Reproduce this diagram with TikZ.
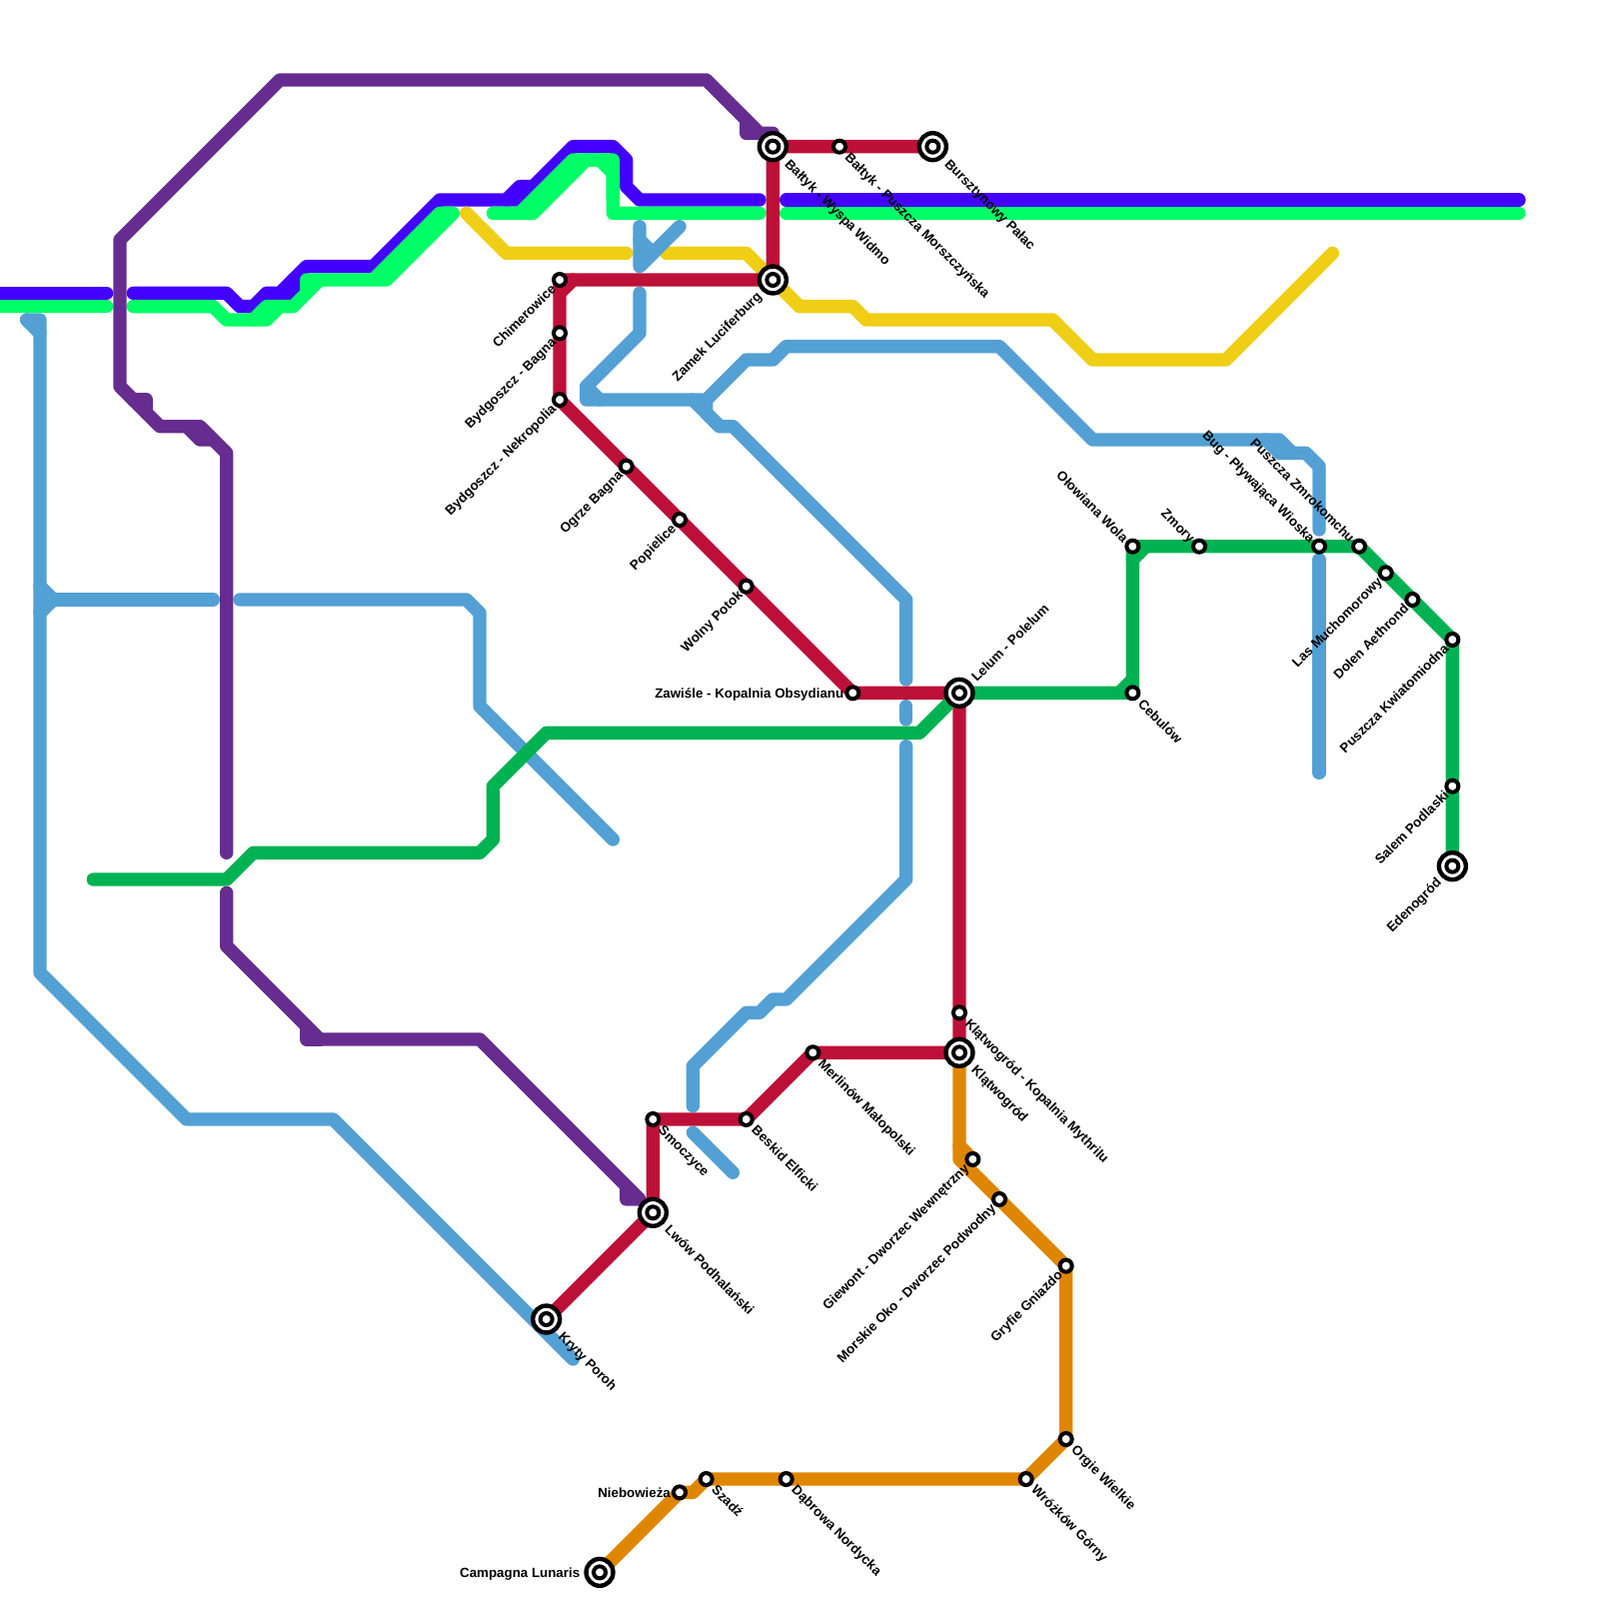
\documentclass[tikz,border=0pt]{standalone}
\usepackage{xcolor}
\usepackage{fontspec}
\setmainfont{Liberation Sans}
\usepackage{tikz}
\usetikzlibrary{backgrounds}
\definecolor{indigoc}{HTML}{4400FF}
\definecolor{springc}{HTML}{00FF66}
\definecolor{yellowc}{HTML}{F0CE15}
\definecolor{bluec}{HTML}{53A0D4}
\definecolor{purplec}{HTML}{662C90}
\definecolor{redc}{HTML}{BD1038}
\definecolor{greenc}{HTML}{00B251}
\definecolor{orangec}{HTML}{DF8600}
\tikzstyle{metro} = [line width=2mm, line cap=round, line join=round]
\tikzstyle{indigoline} = [metro, draw=indigoc]
\tikzstyle{springline} = [metro, draw=springc]
\tikzstyle{yellowline} = [metro, draw=yellowc]
\tikzstyle{blueline} = [metro, draw=bluec]
\tikzstyle{purpleline} = [metro, draw=purplec]
\tikzstyle{redline} = [metro, draw=redc]
\tikzstyle{greenline} = [metro, draw=greenc]
\tikzstyle{orangeline} = [metro, draw=orangec]
\tikzstyle{stop} = [circle, draw=black, fill=white, line width=0.6mm, minimum size=1.8mm, inner sep=0pt]
\tikzstyle{hub} = [circle, draw=black, fill=white, line width=0.66mm, minimum size=4.04mm, inner sep=0pt, path picture={\draw [black, line width=0.6mm] (path picture bounding box.center) circle (0.9mm);}]
\tikzstyle{stname} = [font=\fontsize{5.69}{6.8}\selectfont\bfseries, text=black, text height=4.3pt, text depth=0pt, inner ysep=0pt]
\tikzstyle{namese} = [stname, rotate=-45, anchor=west, inner xsep=1.7mm]
\tikzstyle{namesw} = [stname, rotate=45, anchor=east, inner xsep=1.3mm]
\tikzstyle{namenw} = [stname, rotate=-45, anchor=east, inner xsep=1.3mm]
\tikzstyle{namene} = [stname, rotate=45, anchor=west, inner xsep=2.9mm]
\tikzstyle{namew} = [stname, anchor=east, inner xsep=1.3mm]
\begin{document}
\begin{tikzpicture}[x=2mm, y=-2mm]
    \useasboundingbox (0,0) rectangle (120,120);

    \node (baltyk) [hub] at (58,11) {};
    \node (morsz) [stop] at (63,11) {};
    \node (bursz) [hub] at (70,11) {};
    \node (zamek) [hub] at (58,21) {};
    \node (chimer) [stop] at (42,21) {};
    \node (bagna) [stop] at (42,25) {};
    \node (nekro) [stop] at (42,30) {};
    \node (ogrze) [stop] at (47,35) {};
    \node (popiel) [stop] at (51,39) {};
    \node (wolny) [stop] at (56,44) {};
    \node (zawisle) [stop] at (64,52) {};
    \node (lelum) [hub] at (72,52) {};
    \node (cebulow) [stop] at (85,52) {};
    \node (olowiana) [stop] at (85,41) {};
    \node (zmory) [stop] at (90,41) {};
    \node (bug) [stop] at (99,41) {};
    \node (zmrok) [stop] at (102,41) {};
    \node (las) [stop] at (104,43) {};
    \node (dolen) [stop] at (106,45) {};
    \node (kwiat) [stop] at (109,48) {};
    \node (salem) [stop] at (109,59) {};
    \node (edeno) [hub] at (109,65) {};
    \node (klkop) [stop] at (72,76) {};
    \node (klatwa) [hub] at (72,79) {};
    \node (merlin) [stop] at (61,79) {};
    \node (beskid) [stop] at (56,84) {};
    \node (smok) [stop] at (49,84) {};
    \node (lwow) [hub] at (49,91) {};
    \node (kryty) [hub] at (41,99) {};
    \node (giewont) [stop] at (73,87) {};
    \node (morskie) [stop] at (75,90) {};
    \node (gryfie) [stop] at (80,95) {};
    \node (orgie) [stop] at (80,108) {};
    \node (wrozkow) [stop] at (77,111) {};
    \node (dabrowa) [stop] at (59,111) {};
    \node (szadz) [stop] at (53,111) {};
    \node (niebo) [stop] at (51,112) {};
    \node (campagna) [hub] at (45,118) {};

    \node (nbaltyk) [namese, inner xsep=3.1mm] at (baltyk) {Bałtyk - Wyspa Widmo};
    \node (nmorsz) [namese] at (morsz) {Bałtyk - Puszcza Morszczyńska};
    \node (nbursz) [namese, inner xsep=3.1mm] at (bursz) {Bursztynowy Pałac};
    \node (nzamek) [namesw, inner xsep=2.9mm] at (zamek) {Zamek Luciferburg};
    \node (nchimer) [namesw] at (chimer) {Chimerowice};
    \node (nbagna) [namesw] at (bagna) {Bydgoszcz - Bagna};
    \node (nnekro) [namesw] at (nekro) {Bydgoszcz - Nekropolia};
    \node (nogrze) [namesw] at (ogrze) {Ogrze Bagna};
    \node (npopiel) [namesw] at (popiel) {Popielice};
    \node (nwolny) [namesw] at (wolny) {Wolny Potok};
    \node (nzawisle) [namew] at (zawisle) {Zawiśle - Kopalnia Obsydianu};
    \node (nlelum) [namene] at (lelum) {Lelum - Polelum};
    \node (ncebulow) [namese] at (cebulow) {Cebulów};
    \node (nolowiana) [namenw] at (olowiana) {Ołowiana Wola};
    \node (nzmory) [namenw] at (zmory) {Zmory};
    \node (nbug) [namenw] at (bug) {Bug - Pływająca Wioska};
    \node (nzmrok) [namenw] at (zmrok) {Puszcza Zmrokomchu};
    \node (nlas) [namesw] at (las) {Las Muchomorowy};
    \node (ndolen) [namesw] at (dolen) {Dolen Aethrond};
    \node (nkwiat) [namesw] at (kwiat) {Puszcza Kwiatomiodna};
    \node (nsalem) [namesw] at (salem) {Salem Podlaski};
    \node (nedeno) [namesw, inner xsep=2.9mm] at (edeno) {Edenogród};
    \node (nklkop) [namese] at (klkop) {Klątwogród - Kopalnia Mythrilu};
    \node (nklatwa) [namese, inner xsep=3.1mm] at (klatwa) {Klątwogród};
    \node (nmerlin) [namese] at (merlin) {Merlinów Małopolski};
    \node (nbeskid) [namese] at (beskid) {Beskid Elficki};
    \node (nsmok) [namese] at (smok) {Smoczyce};
    \node (nlwow) [namese, inner xsep=3.1mm] at (lwow) {Lwów Podhalański};
    \node (nkryty) [namese, inner xsep=3.1mm] at (kryty) {Kryty Poroh};
    \node (ngiewont) [namesw] at (giewont) {Giewont - Dworzec Wewnętrzny};
    \node (nmorskie) [namesw] at (morskie) {Morskie Oko - Dworzec Podwodny};
    \node (ngryfie) [namesw] at (gryfie) {Gryfie Gniazdo};
    \node (norgie) [namese] at (orgie) {Orgie Wielkie};
    \node (nwrozkow) [namese] at (wrozkow) {Wróżków Górny};
    \node (ndabrowa) [namese] at (dabrowa) {Dąbrowa Nordycka};
    \node (nszadz) [namese] at (szadz) {Szadź};
    \node (nniebo) [namew] at (niebo) {Niebowieża};
    \node (ncampagna) [namew, inner xsep=2.9mm] at (campagna) {Campagna Lunaris};

    \coordinate (ia) at (-1,22); \coordinate (ib) at (8,22);
    \coordinate (ic) at (10,22); \coordinate (id) at (57,15);
    \coordinate (ie) at (21,22); \coordinate (if) at (22,21);
    \coordinate (ig) at (38,15); \coordinate (ih) at (40,14);
    \coordinate (ii) at (59,15); \coordinate (ij) at (114,15);
    \coordinate (sa) at (-1,23); \coordinate (sb) at (8,23);
    \coordinate (sc) at (10,23); \coordinate (sd) at (23,22);
    \coordinate (se) at (19,24); \coordinate (sf) at (21,23);
    \coordinate (sg) at (37,16); \coordinate (sh) at (57,16);
    \coordinate (si) at (39,16); \coordinate (sj) at (46,15);
    \coordinate (sk) at (59,16); \coordinate (sl) at (114,16);
    \coordinate (ya) at (35,16); \coordinate (yb) at (47,19);
    \coordinate (yc) at (50,19); \coordinate (yd) at (100,19);
    \coordinate (ba) at (2,24); \coordinate (bb) at (43,102);
    \coordinate (bc) at (3,25); \coordinate (bd) at (3,44);
    \coordinate (be) at (3,46); \coordinate (bf) at (4,45);
    \coordinate (bg) at (16,45); \coordinate (bh) at (18,45);
    \coordinate (bi) at (46,63); \coordinate (bj) at (48,17);
    \coordinate (bk) at (51,17); \coordinate (bl) at (48,18);
    \coordinate (bm) at (49,19); \coordinate (bn) at (48,22);
    \coordinate (bo) at (99,39.75); \coordinate (bp) at (44,29);
    \coordinate (bq) at (45,30); \coordinate (br) at (95,33);
    \coordinate (bs) at (97,34); \coordinate (bt) at (52,30);
    \coordinate (bu) at (68,51); \coordinate (bv) at (53,30);
    \coordinate (bw) at (54,32); \coordinate (bx) at (68,53);
    \coordinate (by) at (68,54); \coordinate (bz) at (68,56);
    \coordinate (ca) at (52,83); \coordinate (cb) at (52,85);
    \coordinate (cc) at (55,88); \coordinate (cd) at (99,42);
    \coordinate (ce) at (99,58);
    \coordinate (pa) at (17,64); \coordinate (pb) at (10,30);
    \coordinate (pc) at (11,31); \coordinate (pd) at (14,32);
    \coordinate (pe) at (16,33); \coordinate (pf) at (56,9);
    \coordinate (pg) at (57,10); \coordinate (ph) at (17,67);
    \coordinate (pi) at (47,89); \coordinate (pj) at (23,77);
    \coordinate (pk) at (24,78);
    \coordinate (ra) at (42,22); \coordinate (rb) at (43,21);
    \coordinate (ga) at (7,66); \coordinate (gb) at (84,52);
    \coordinate (gc) at (85,51); \coordinate (gd) at (85,42);
    \coordinate (ge) at (86,41);
    \coordinate (oa) at (72,86);

    \begin{scope}[on background layer]
        \draw [indigoline] (ia) -- (ib);
        \draw [indigoline] (ic) -- (17,22) -- (18,23) -- (19,23) -- (20,22) -- (21,22) -- (23,20) -- (28,20) -- (33,15) -- (38,15) -- (39,14) -- (40,14) -- (43,11) -- (46,11) -- (47,12) -- (47,14) -- (48,15) -- (id);
        \draw [indigoline] (ie) -- (22,22) -- (if);
        \draw [indigoline] (ig) -- (39,15) -- (ih);
        \draw [indigoline] (ii) -- (ij);

        \draw [springline] (sa) -- (sb);
        \draw [springline] (sc) -- (16,23) -- (17,24) -- (20,24) -- (21,23) -- (22,23) -- (24,21) -- (29,21) -- (34,16) -- (33,16) -- (28,21) -- (23,21) -- (sd);
        \draw [springline] (se) -- (20,23) -- (sf);
        \draw [springline] (sg) -- (40,16) -- (44,12) -- (45,12) -- (46,13) -- (46,16) -- (sh);
        \draw [springline] (si) -- (43,12) -- (46,12) -- (sj);
        \draw [springline] (sk) -- (sl);

        \draw [yellowline] (ya) -- (38,19) -- (yb);
        \draw [yellowline] (yc) -- (56,19) -- (60,23) -- (64,23) -- (65,24) -- (79,24) -- (82,27) -- (92,27) -- (yd);

        \draw [blueline] (ba) -- (3,24) -- (3,73) -- (14,84) -- (25,84) -- (bb);
        \draw [blueline] (ba) -- (bc);
        \draw [blueline] (bd) -- (bf) -- (be);
        \draw [blueline] (bf) -- (bg);
        \draw [blueline] (bh) -- (35,45) -- (36,46) -- (36,53) -- (bi);
        \draw [blueline] (bj) -- (48,20) -- (bk);
        \draw [blueline] (bl) -- (bm);
        \draw [blueline] (bn) -- (48,25) -- (bp) -- (44,30) -- (bt) -- (bv) -- (56,27) -- (58,27) -- (59,26) -- (75,26) -- (82,33) -- (96,33) -- (bs) -- (98,34) -- (99,35) -- (bo);
        \draw [blueline] (bp) -- (bq);
        \draw [blueline] (br) -- (96,34) -- (bs);
        \draw [blueline] (bt) -- (bw) -- (55,32) -- (68,45) -- (bu);
        \draw [blueline] (bv) -- (53,31) -- (bw);
        \draw [blueline] (bx) -- (by);
        \draw [blueline] (bz) -- (68,66) -- (59,75) -- (58,75) -- (57,76) -- (56,76) -- (52,80) -- (ca);
        \draw [blueline] (cb) -- (cc);
        \draw [blueline] (cd) -- (ce);

        \draw [purpleline] (pa) -- (17,34) -- (15,32) -- (12,32) -- (9,29) -- (9,18) -- (21,6) -- (53,6) -- (pg) -- (58,10) -- (baltyk.center);
        \draw [purpleline] (pb) -- (11,30) -- (pc);
        \draw [purpleline] (pd) -- (15,33) -- (pe);
        \draw [purpleline] (pf) -- (56,10) -- (pg);
        \draw [purpleline] (ph) -- (17,71) -- (pk) -- (36,78) -- (48,90) -- (47,90) -- (pi);
        \draw [purpleline] (pj) -- (23,78) -- (pk);

        \draw [redline] (kryty.center) -- (lwow.center) -- (smok.center) -- (beskid.center) -- (merlin.center) -- (klatwa.center) -- (klkop.center) -- (lelum.center) -- (zawisle.center) -- (wolny.center) -- (popiel.center) -- (ogrze.center) -- (nekro.center) -- (bagna.center) -- (chimer.center) -- (zamek.center) -- (baltyk.center) -- (morsz.center) -- (bursz.center);
        \draw [redline] (ra) -- (rb);

        \draw [greenline] (ga) -- (17,66) -- (19,64) -- (36,64) -- (37,63) -- (37,59) -- (41,55) -- (69,55) -- (lelum.center) -- (cebulow.center) -- (olowiana.center) -- (zmory.center) -- (bug.center) -- (zmrok.center) -- (las.center) -- (dolen.center) -- (kwiat.center) -- (salem.center) -- (edeno.center);
        \draw [greenline] (gb) -- (gc);
        \draw [greenline] (gd) -- (ge);

        \draw [orangeline] (klatwa.center) -- (72,87) -- (morskie.center) -- (gryfie.center) -- (orgie.center) -- (wrozkow.center) -- (dabrowa.center) -- (szadz.center) -- (52,112) -- (niebo.center) -- (campagna.center);
        \draw [orangeline] (oa) -- (giewont.center);
    \end{scope}
\end{tikzpicture}
\end{document}
